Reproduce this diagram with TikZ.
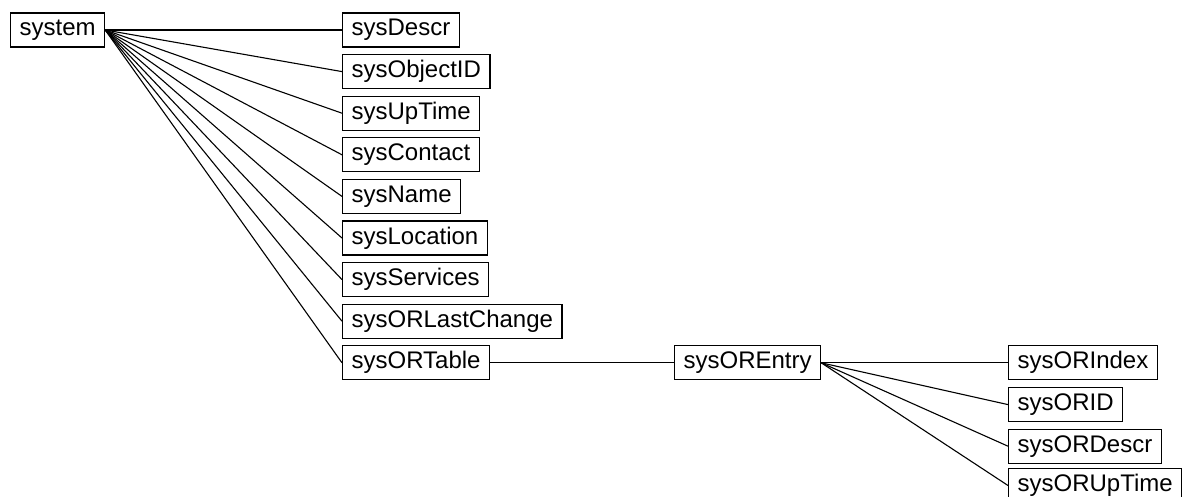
\documentclass[tikz,border=0pt]{standalone}
\usepackage{fontspec}
\setmainfont{Liberation Sans}
\usetikzlibrary{positioning}

\begin{document}
\begin{tikzpicture}[x=1pt,y=-1pt,font=\fontsize{24}{26}\selectfont,
    mibbox/.style={rectangle,draw=black,line width=1.2pt,inner xsep=9pt,inner ysep=0pt,
      text height=17pt,text depth=5pt,minimum height=34pt,anchor=west},
    mibline/.style={black,line width=1.1pt}]
      \useasboundingbox (0,0) rectangle (1182,497);

      % top level group
      \node[mibbox] (system) at (10,30) {system};

      % system members
      \node[mibbox] (descr) at (342,30) {sysDescr};
      \node[mibbox] (objid) at (342,71.6) {sysObjectID};
      \node[mibbox] (uptime) at (342,113.2) {sysUpTime};
      \node[mibbox] (contact) at (342,154.8) {sysContact};
      \node[mibbox] (name) at (342,196.4) {sysName};
      \node[mibbox] (location) at (342,238) {sysLocation};
      \node[mibbox] (services) at (342,279.6) {sysServices};
      \node[mibbox] (lastchange) at (342,321.2) {sysORLastChange};
      \node[mibbox] (ortable) at (342,362.8) {sysORTable};

      % table entry
      \node[mibbox] (orentry) at (674,362.8) {sysOREntry};

      % entry columns
      \node[mibbox] (orindex) at (1008,362.8) {sysORIndex};
      \node[mibbox] (orid) at (1008,404.6) {sysORID};
      \node[mibbox] (ordescr) at (1008,446.2) {sysORDescr};
      \node[mibbox] (oruptime) at (1008,485.5) {sysORUpTime};

      % system -> members
      \draw[mibline] (system.east) -- (descr.west);
      \draw[mibline] (system.east) -- (objid.west);
      \draw[mibline] (system.east) -- (uptime.west);
      \draw[mibline] (system.east) -- (contact.west);
      \draw[mibline] (system.east) -- (name.west);
      \draw[mibline] (system.east) -- (location.west);
      \draw[mibline] (system.east) -- (services.west);
      \draw[mibline] (system.east) -- (lastchange.west);
      \draw[mibline] (system.east) -- (ortable.west);

      % table -> entry
      \draw[mibline] (ortable.east) -- (orentry.west);

      % entry -> columns
      \draw[mibline] (orentry.east) -- (orindex.west);
      \draw[mibline] (orentry.east) -- (orid.west);
      \draw[mibline] (orentry.east) -- (ordescr.west);
      \draw[mibline] (orentry.east) -- (oruptime.west);

   \end{tikzpicture}
\end{document}
